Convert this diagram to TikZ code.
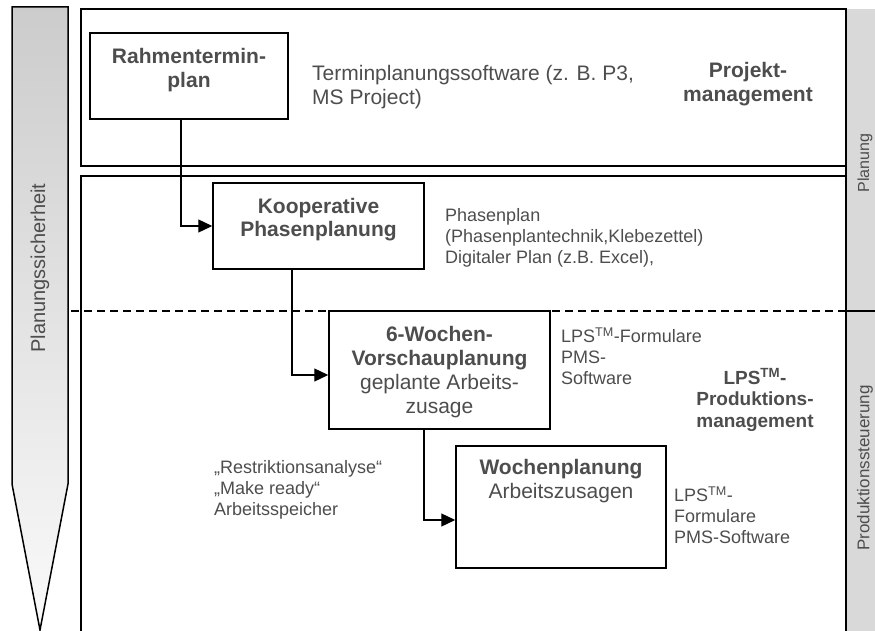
\documentclass[tikz,border=0pt]{standalone}
\usepackage{fontspec}
\setmainfont{Liberation Sans}
\usetikzlibrary{arrows.meta}
\definecolor{txtgray}{RGB}{77,77,77}
\definecolor{stripgray}{RGB}{217,217,217}
\definecolor{arrowtop}{RGB}{204,204,204}
\definecolor{arrowbot}{RGB}{250,250,250}

\begin{document}
\begin{tikzpicture}[x=1pt,y=-1pt,
  frame/.style={line width=1.5pt},
  stepbox/.style={draw, line width=1.5pt, rectangle, inner sep=0pt},
  conn/.style={line width=1.3pt, -{Triangle[length=14pt,width=13pt]}},
  big/.style={font=\fontsize{21}{24}\selectfont, text=txtgray, inner sep=0pt},
  bigb/.style={font=\fontsize{21}{23.5}\selectfont\bfseries, text=txtgray, inner sep=0pt},
  small/.style={font=\fontsize{18}{20.7}\selectfont, text=txtgray, inner sep=0pt, align=left, anchor=west},
  side/.style={text=txtgray, rotate=90, inner sep=0pt}
]
\useasboundingbox (0,0) rectangle (875,631);
\clip (0,0) rectangle (875,631);

% grey strip on the right with its two section names
\fill[stripgray] (846,9) rectangle (880,640);

% uncertainty arrow on the left
\path[draw, frame, top color=arrowtop, bottom color=arrowbot]
  (12,7) -- (68,7) -- (68,484) -- (40,630) -- (12,484) -- cycle;
\node[side, font=\fontsize{20}{24}\selectfont] (sich) at (40,268) {Planungssicherheit};

% section frames
\draw[frame] (81,9) rectangle (846,166);
\draw[frame] (81,640) -- (81,176) -- (846,176) -- (846,640);
\draw[frame] (846,9) -- (846,640);
\draw[frame] (846,311) -- (880,311);
\draw[line width=1.3pt, dash pattern=on 8pt off 5pt] (71,311) -- (846,311);

\node[side, font=\fontsize{16}{18}\selectfont] (planung) at (865,163) {Planung};
\node[side, font=\fontsize{17}{20}\selectfont] (prod) at (865,468) {Produktionssteuerung};

% planning levels
\node[stepbox, minimum width=198pt, minimum height=86pt] (rahmen) at (189,76) {};
\node[bigb, align=center] (rahmenT) at (189,70) {Rahmentermin-\\plan};

\node[stepbox, minimum width=211pt, minimum height=86pt] (koop) at (318.5,226) {};
\node[bigb, align=center] (koopT) at (318.5,219.5) {Kooperative\\Phasenplanung};

\node[stepbox, minimum width=221pt, minimum height=118pt] (wochen6) at (439.5,370) {};
\node[big, align=center] (wochen6T) at (439.5,372)
  {\textbf{6-Wochen-}\\\textbf{Vorschauplanung}\\geplante Arbeits-\\zusage};

\node[stepbox, minimum width=210pt, minimum height=122pt] (woche) at (561,507) {};
\node[big, align=center] (wocheT) at (561,481.5) {\textbf{Wochenplanung}\\Arbeitszusagen};

% tools and notes
\node[big, align=left, anchor=west] (tool1) at (312,87) {Terminplanungssoftware (z. B. P3,\\MS Project)};
\node[bigb, align=center] (pm) at (748,84) {Projekt-\\management};
\node[small] (tool2) at (445,238) {Phasenplan\\(Phasenplantechnik,Klebezettel)\\Digitaler Plan (z.B. Excel),};
\node[small] (tool3) at (561,356) {LPS\textsuperscript{TM}-Formulare\\PMS-\\Software};
\node[bigb, font=\fontsize{19}{21.5}\selectfont\bfseries, align=center] (lps) at (755,400)
  {LPS\textsuperscript{TM}-\\Produktions-\\management};
\node[small] (restr) at (214,490) {„Restriktionsanalyse“\\„Make ready“\\Arbeitsspeicher};
\node[small] (tool4) at (674,515) {LPS\textsuperscript{TM}-\\Formulare\\PMS-Software};

% connectors between the levels
\draw[conn] ([xshift=-8pt]rahmen.south) |- (koop.west);
\draw[conn] ([xshift=-26.5pt]koop.south) |- ([yshift=-5pt]wochen6.west);
\draw[conn] ([xshift=-15.5pt]wochen6.south) |- ([yshift=-13pt]woche.west);
\end{tikzpicture}
\end{document}
